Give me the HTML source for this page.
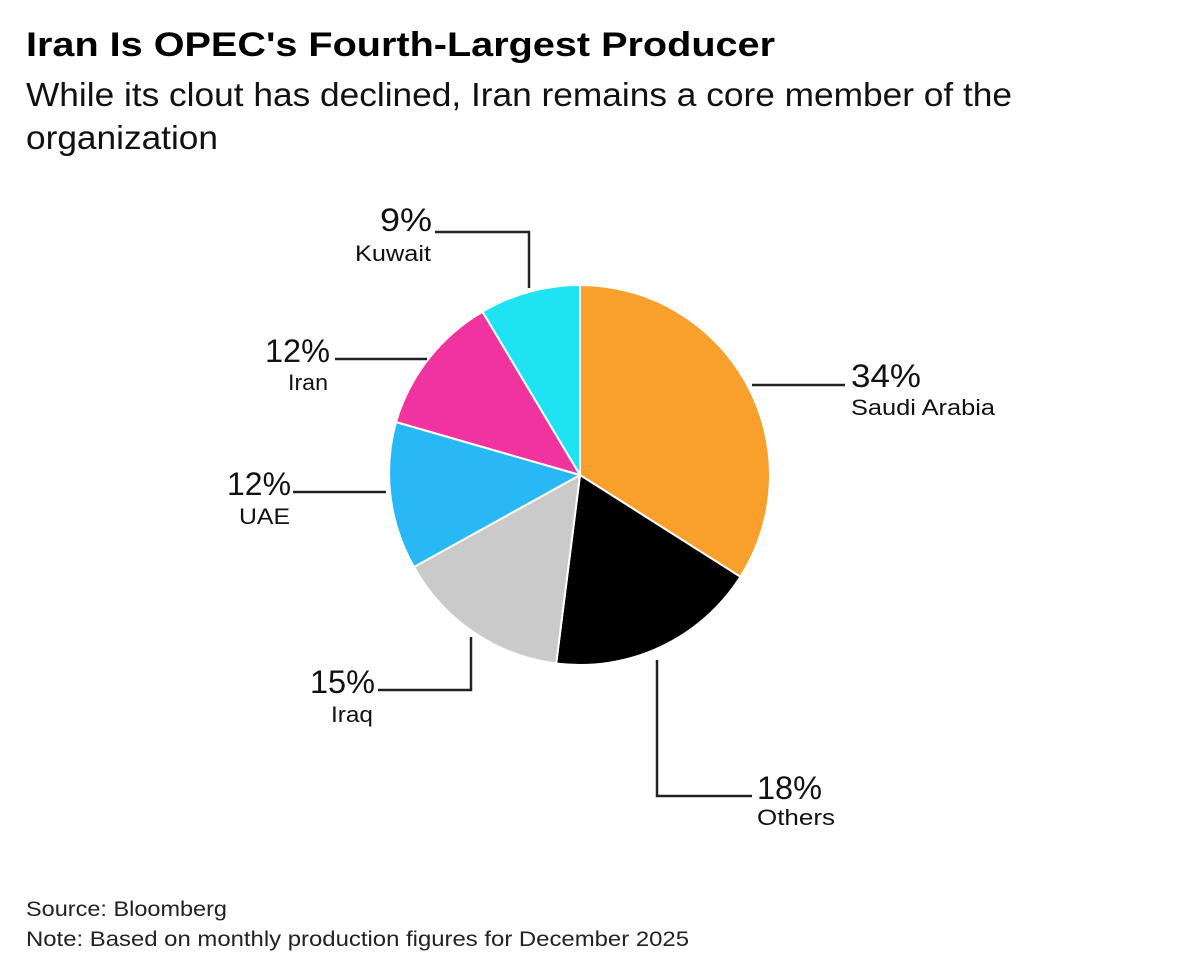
<!DOCTYPE html>
<html><head><meta charset="utf-8"><style>
html,body{margin:0;padding:0;background:#fff;}
svg{display:block;font-family:"Liberation Sans",Arial,sans-serif;}
</style></head><body>
<svg width="1200" height="971" viewBox="0 0 1200 971">
<rect width="1200" height="971" fill="#fff"/>
<text x="26" y="56" font-size="34" font-weight="bold" fill="#000" textLength="749" lengthAdjust="spacingAndGlyphs">Iran Is OPEC's Fourth-Largest Producer</text>
<text x="26" y="106" font-size="33" fill="#111" textLength="986" lengthAdjust="spacingAndGlyphs">While its clout has declined, Iran remains a core member of the</text>
<text x="26" y="149" font-size="33" fill="#111" textLength="192" lengthAdjust="spacingAndGlyphs">organization</text>
<g stroke="#fff" stroke-width="2" stroke-linejoin="round">
<path d="M580,475 L580,285 A190,190 0 0 1 740.4,576.8 Z" fill="#f99f2c"/>
<path d="M580,475 L740.4,576.8 A190,190 0 0 1 556.2,663.5 Z" fill="#000"/>
<path d="M580,475 L556.2,663.5 A190,190 0 0 1 414.0,567.0 Z" fill="#cacaca"/>
<path d="M580,475 L414.0,567.0 A190,190 0 0 1 396.0,422.0 Z" fill="#28b8f5"/>
<path d="M580,475 L396.0,422.0 A190,190 0 0 1 482.5,311.7 Z" fill="#f0339e"/>
<path d="M580,475 L482.5,311.7 A190,190 0 0 1 580,285 Z" fill="#1fe3f3"/>
</g>
<g stroke="#222" stroke-width="2.5" fill="none">
<polyline points="529,288 529,232 435,232"/>
<polyline points="427,359 335,359"/>
<polyline points="386,492 293,492"/>
<polyline points="471,637 471,690 378,690"/>
<polyline points="657,660 657,796 752,796"/>
<polyline points="752,385 845,385"/>
</g>
<g fill="#111" font-size="32">
<text x="380" y="231" textLength="52" lengthAdjust="spacingAndGlyphs">9%</text>
<text x="265" y="362" textLength="65" lengthAdjust="spacingAndGlyphs">12%</text>
<text x="227" y="495" textLength="64" lengthAdjust="spacingAndGlyphs">12%</text>
<text x="310" y="693" textLength="65" lengthAdjust="spacingAndGlyphs">15%</text>
<text x="757" y="799" textLength="65" lengthAdjust="spacingAndGlyphs">18%</text>
<text x="851" y="387" textLength="70" lengthAdjust="spacingAndGlyphs">34%</text>
</g>
<g fill="#111" font-size="22">
<text x="355" y="261" textLength="76" lengthAdjust="spacingAndGlyphs">Kuwait</text>
<text x="288" y="390" textLength="40" lengthAdjust="spacingAndGlyphs">Iran</text>
<text x="239" y="524" textLength="51" lengthAdjust="spacingAndGlyphs">UAE</text>
<text x="331" y="722" textLength="42" lengthAdjust="spacingAndGlyphs">Iraq</text>
<text x="757" y="825" textLength="78" lengthAdjust="spacingAndGlyphs">Others</text>
<text x="851" y="415" textLength="144" lengthAdjust="spacingAndGlyphs">Saudi Arabia</text>
</g>
<text x="26" y="916" font-size="21" fill="#222" textLength="201" lengthAdjust="spacingAndGlyphs">Source: Bloomberg</text>
<text x="26" y="946" font-size="21" fill="#222" textLength="663" lengthAdjust="spacingAndGlyphs">Note: Based on monthly production figures for December 2025</text>
</svg>
</body></html>
